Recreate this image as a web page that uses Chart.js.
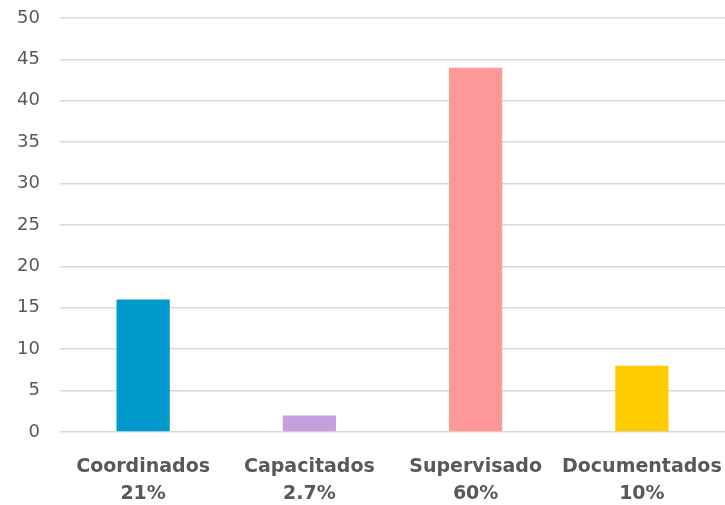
<!DOCTYPE html>
<html>
<head>
<meta charset="utf-8">
<script src="https://cdn.jsdelivr.net/npm/chart.js@4/dist/chart.umd.min.js"></script>
<style>
  html, body { margin: 0; padding: 0; background: #fff; }
  #wrap { width: 725px; height: 505px; position: relative; }
</style>
</head>
<body>
<div id="wrap"><canvas id="chart"></canvas></div>
<script>
const categories = [['Coordinados', '21%'], ['Capacitados', '2.7%'], ['Supervisado', '60%'], ['Documentados', '10%']]
const values = [16, 2, 44, 8]
const colors = ['#0099CC', '#C59FE0', '#FF9999', '#FFCC00']

new Chart(
  document.getElementById('chart'),
  {
    type: 'bar',
    data: {
      labels: categories,
      datasets: [
        {
          data: values,
          backgroundColor: colors,
          barPercentage: 0.64,
          categoryPercentage: 0.5
        }
      ]
    },
    options: {
      responsive: true,
      maintainAspectRatio: false,
      animation: false,
      layout: {
        padding: 0
      },
      plugins: {
        legend: { display: false },
        tooltip: { enabled: false }
      },
      scales: {
        x: {
          grid: { display: false },
          border: { display: false },
          ticks: {
            color: '#595959',
            padding: 13,
            maxRotation: 0,
            autoSkip: false,
            font: { family: 'DejaVu Sans', size: 19, weight: 'bold', lineHeight: 1.45 }
          },
          afterFit: (scale) => {
            scale.height = 73
            scale.paddingLeft = 0
            scale.paddingRight = 0
          }
        },
        y: {
          min: 0,
          max: 50,
          grid: { color: '#D9D9D9', lineWidth: 1.5, drawTicks: false },
          border: { display: false },
          ticks: {
            stepSize: 5,
            color: '#595959',
            padding: 20,
            font: { family: 'DejaVu Sans', size: 18 }
          },
          afterFit: (scale) => {
            scale.width = 60
            scale.paddingTop = 18
            scale.paddingBottom = 0
          }
        }
      }
    }
  }
)
</script>
</body>
</html>
